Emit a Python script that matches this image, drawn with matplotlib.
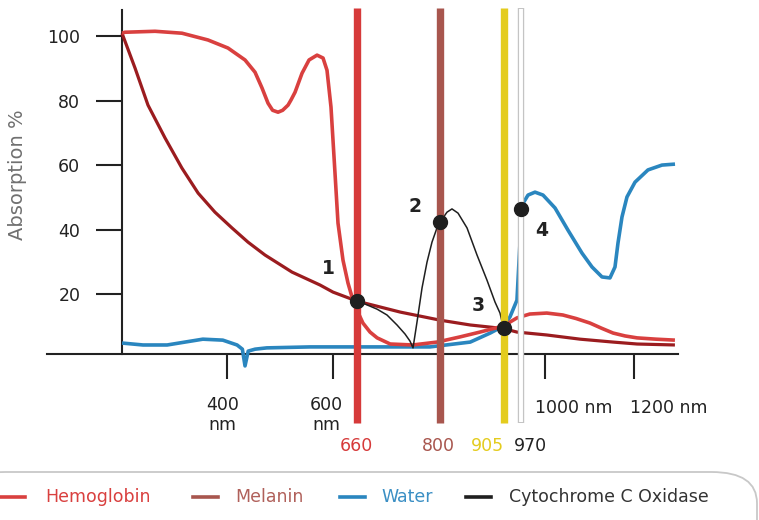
import numpy as np
import matplotlib
matplotlib.use("Agg")
import matplotlib.pyplot as plt
from matplotlib.patches import FancyBboxPatch

# ── data (wavelength nm, absorption %) ────────────────────────────────────────
hemo_nm = [200, 205.7, 262.9, 314.3, 363.8, 401.9, 434, 452.9, 466.1, 477.4,
           486, 496.3, 505, 515.2, 520.8, 528.4, 541.6, 554.8, 569.9, 581.2,
           588.7, 596.2, 605, 612.5, 625, 637.5, 647.5, 660, 670, 682, 694, 716,
           754, 795, 833, 866, 905, 955, 981, 1004, 1040, 1070, 1101, 1127,
           1153, 1180, 1207, 1250, 1293]
hemo_abs = [100.9, 101.2, 101.5, 100.9, 98.8, 96.3, 92.6, 88.8, 83.9, 79.2,
            77.0, 76.4, 77.0, 78.6, 80.2, 82.6, 88.5, 92.6, 94.1, 93.2, 89.4,
            78.0, 57.5, 42.0, 30.5, 23.4, 19.1, 15.0, 11.0, 8.2, 6.4, 4.5, 4.2,
            5.1, 6.7, 8.2, 10.1, 12.6, 13.8, 14.1, 13.5, 12.4, 11.0, 9.4, 7.9,
            7.0, 6.4, 6.0, 5.7]

mel_nm = [200, 224.8, 249.5, 282, 314, 345, 377, 409.4, 439.6, 471.7, 522.7,
          575.5, 600, 660, 733, 800, 850, 905, 955, 1004, 1079, 1153, 1207,
          1293]
mel_abs = [100.9, 90.1, 78.6, 68.4, 59.1, 51.3, 45.4, 40.5, 36.1, 32.1, 26.8,
           22.8, 20.6, 17.8, 14.4, 11.9, 10.4, 9.3, 8.2, 7.3, 6.0, 5.1, 4.5, 4.2]

water_nm = [200, 240, 286, 354, 392, 419, 429, 434, 440, 453, 475, 557, 660, 783,
            850, 883, 905, 929, 955, 971.2, 978.8, 987.5, 997.5, 1022.5, 1051.7,
            1083.1, 1105.6, 1128.1, 1146, 1157.3, 1164, 1173, 1184.2, 1202.3,
            1231.8, 1263.6, 1293.2]
water_abs = [4.8, 4.2, 4.2, 6.0, 5.7, 4.2, 2.9, -2.3, 2.3, 2.9, 3.3, 3.6, 3.6,
             3.6, 5.1, 7.9, 10.1, 12.9, 18.1, 47.6, 50.7, 51.6, 50.7, 46.7, 39.8,
             32.7, 28.4, 25.3, 25.0, 28.4, 35.8, 43.9, 50.1, 54.7, 58.5, 60.0,
             60.3]

cco_nm = [660, 673.5, 694, 710.6, 727.5, 741, 749.4, 754.5, 761.2, 769.7, 778.1,
          786.5, 794.9, 800, 811.6, 819.8, 829.8, 844.7, 861.2, 877.7, 891,
          899.2, 905]
cco_abs = [17.8, 16.9, 15.3, 13.5, 10.4, 7.6, 5.4, 3.3, 11.3, 21.9, 29.9, 36.1,
           40.5, 42.3, 45.4, 46.4, 45.1, 40.5, 32.1, 24.3, 17.5, 14.1, 9.5]

point_nm = [660, 800, 905, 970]
point_abs = [17.8, 42.3, 9.5, 46.4]
point_labels = ["1", "2", "3", "4"]

band_nm = [660, 800, 905]
band_colors = ["#d63a3a", "#a8564e", "#e4cc1e"]

# the axis is schematic: wavelength -> horizontal position is piecewise
NM_ANCHORS = [50, 200, 400, 600, 660, 800, 905, 970, 1000, 1200, 1300]
POS_ANCHORS = [47, 122, 227, 333, 357, 440, 503.5, 521, 545, 634, 678]

C_HEMO = "#d9403f"
C_MEL = "#9b1c1f"
C_WATER = "#2a86bf"
C_CCO = "#1f1f1f"
BASE = 1.4

plt.rcParams["font.family"] = ["DejaVu Sans"]

fig = plt.figure(figsize=(7.59, 5.20), dpi=100)
ax = fig.add_axes([47 / 759, 97 / 520, 631 / 759, 413 / 520])

ax.set_xscale("function", functions=(
    lambda x: np.interp(x, NM_ANCHORS, POS_ANCHORS),
    lambda p: np.interp(p, POS_ANCHORS, NM_ANCHORS)))
ax.set_xlim(50, 1300)
ax.set_ylim(-20, 108.1)

# curves
line_kw = dict(solid_joinstyle="round", solid_capstyle="butt")
ax.plot(water_nm, water_abs, color=C_WATER, lw=2.6, zorder=2, clip_on=False,
        **line_kw)
ax.plot(mel_nm, mel_abs, color=C_MEL, lw=2.3, zorder=2, **line_kw)
ax.plot(hemo_nm, hemo_abs, color=C_HEMO, lw=2.6, zorder=2, **line_kw)
ax.plot(cco_nm, cco_abs, color=C_CCO, lw=1.1, zorder=3, **line_kw)

# wavelength bands
for nm, c in zip(band_nm, band_colors):
    ax.plot([nm, nm], [-20, 108.7], color=c, lw=5.3, solid_capstyle="butt",
            zorder=4, clip_on=False)
ax.plot([970, 970], [-20, 108.7], color="#c4c4c4", lw=4.6,
        solid_capstyle="butt", zorder=4, clip_on=False)
ax.plot([970, 970], [-19.6, 108.3], color="white", lw=2.8,
        solid_capstyle="butt", zorder=4, clip_on=False)

# marked points
ax.plot(point_nm, point_abs, "o", color=C_CCO, ms=10, zorder=6, clip_on=False)
label_pos = [(592, 28.0), (758, 47.3), (864, 16.3), (996, 39.8)]
for (x, y), t in zip(label_pos, point_labels):
    ax.text(x, y, t, fontsize=13.5, fontweight="bold", color="#222222",
            ha="center", va="center")

# axes
for s in ["top", "right"]:
    ax.spines[s].set_visible(False)
ax.spines["left"].set_position(("data", 200))
ax.spines["left"].set_bounds(BASE, 108.1)
ax.spines["bottom"].set_position(("data", BASE))
for s in ["left", "bottom"]:
    ax.spines[s].set_color("#222222")
    ax.spines[s].set_linewidth(1.5)
    ax.spines[s].set_zorder(1)

ax.set_yticks([20, 40, 60, 80, 100])
ax.set_xticks([400, 600, 1000, 1200])
ax.set_xticklabels([])
ax.tick_params(axis="y", direction="out", length=19, width=1.5, pad=11,
               labelsize=12.5, colors="#222222")
ax.tick_params(axis="x", direction="out", length=18, width=1.5,
               colors="#222222")
ax.set_ylabel("Absorption %", fontsize=14, color="#707070")
ax.yaxis.set_label_coords(27 / 759, (520 - 175) / 520, transform=fig.transFigure)

# tick labels (placed by hand, as in the figure)
ax.text(392, -11.6, "400\nnm", fontsize=12.5, color="#222222", ha="center",
        va="top", linespacing=1.15)
ax.text(587, -11.6, "600\nnm", fontsize=12.5, color="#222222", ha="center",
        va="top", linespacing=1.15)
ax.text(987, -15.5, "1000 nm", fontsize=12.5, color="#222222", ha="left",
        va="center")
ax.text(1191, -15.5, "1200 nm", fontsize=12.5, color="#222222", ha="left",
        va="center")
for x, t, c in [(658, "660", "#d63a3a"), (798, "800", "#a8564e"),
                (879, "905", "#e4cc1e"), (982, "970", "#222222")]:
    ax.text(x, -27.2, t, fontsize=12.5, color=c, ha="center", va="center")

# legend box
box = FancyBboxPatch((-40 / 759, -60 / 520), 797 / 759, 108 / 520,
                     boxstyle="round,pad=0,rounding_size=0.06",
                     transform=fig.transFigure, facecolor="none",
                     edgecolor="#c8c8c8", lw=1.3, clip_on=False)
fig.patches.append(box)
legend_items = [("Hemoglobin", C_HEMO, "#d9403f", 0, 45),
                ("Melanin", "#a8564e", "#b0605a", 193, 235),
                ("Water", C_WATER, "#3b8fc4", 340, 381),
                ("Cytochrome C Oxidase", C_CCO, "#333333", 466, 509)]
for name, lc, tc, lx, tx in legend_items:
    fig.add_artist(plt.Line2D([lx / 759, (lx + 25) / 759],
                              [(520 - 497) / 520] * 2, color=lc, lw=2.6,
                              transform=fig.transFigure))
    fig.text(tx / 759, (520 - 497) / 520, name, fontsize=12.5, color=tc,
             ha="left", va="center")

fig.savefig("out.png", dpi=100)
